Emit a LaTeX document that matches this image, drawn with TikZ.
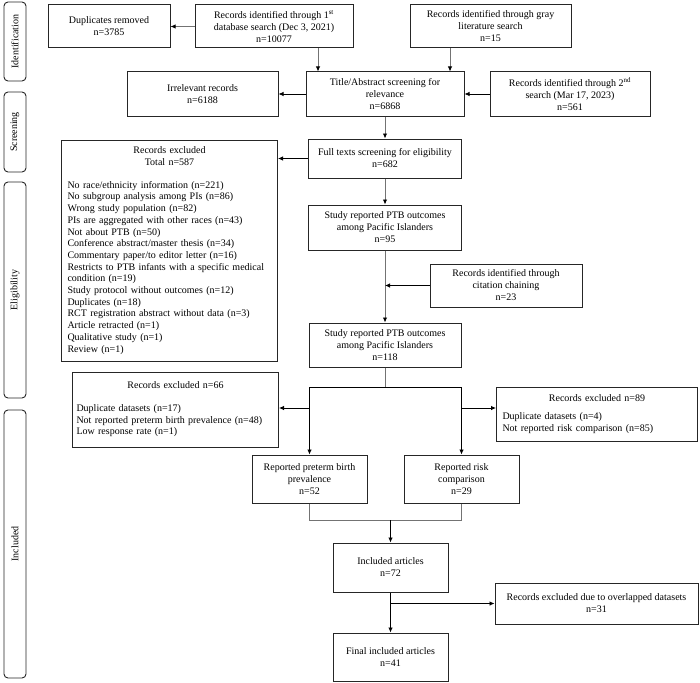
\documentclass[tikz,border=0pt]{standalone}
\usepackage{fontspec}
\setmainfont{Liberation Serif}
\usetikzlibrary{arrows.meta,calc}
\newcommand\boxfont{\fontsize{10}{12}\selectfont}
\begin{document}
\begin{tikzpicture}[x=1pt,y=-1pt,
  box/.style={draw=black!85, line width=1pt, align=center, inner sep=2pt, font=\boxfont},
  listbox/.style={draw=black!85, line width=1pt, align=left, inner xsep=6pt, inner ysep=2pt, font=\fontsize{10}{11.7}\selectfont},
  tab/.style={draw=black!85, line width=0.9pt, rounded corners=4pt, rotate=90, inner sep=0pt, font=\boxfont},
  conn/.style={draw=black, line width=0.8pt},
  gconn/.style={draw=black!55, line width=0.9pt},
  arr/.style={conn, -{Latex[length=5pt,width=4.5pt,color=black]}},
  garr/.style={gconn, -{Latex[length=5pt,width=4.5pt,color=black]}}]
\fill[white] (0,0) rectangle (700,682);
\useasboundingbox (0,0) rectangle (700,682);
% side tabs
\node[tab, minimum width=79pt, minimum height=22pt] (tid) at (15,41.5) {Identification};
\node[tab, minimum width=80pt, minimum height=22pt] (tsc) at (15,132) {Screening};
\node[tab, minimum width=216pt, minimum height=22pt] (tel) at (15,290) {Eligibility};
\node[tab, minimum width=268pt, minimum height=22pt] (tin) at (15,544) {Included};
% boxes
\node[box, minimum width=122pt, minimum height=43pt] (dup) at (109,26.5) {Duplicates removed\\n=3785};
\node[box, minimum width=158pt, minimum height=43pt] (rec1) at (274,26.5) {Records identified through 1\textsuperscript{st}\\database search (Dec 3, 2021)\\n=10077};
\node[box, minimum width=161pt, minimum height=43pt] (gray) at (490.5,26.5) {Records identified through gray\\literature search\\n=15};
\node[box, minimum width=151pt, minimum height=44pt] (irr) at (202.5,94) {Irrelevant records\\n=6188};
\node[box, minimum width=158pt, minimum height=44pt] (title) at (385,94) {Title/Abstract screening for\\relevance\\n=6868};
\node[box, minimum width=160pt, minimum height=44pt] (rec2) at (570,94) {Records identified through 2\textsuperscript{nd}\\search (Mar 17, 2023)\\n=561};
\node[box, minimum width=153pt, minimum height=39pt] (full) at (385,158.5) {Full texts screening for eligibility\\n=682};
\node[listbox, text width=204pt, minimum height=221pt] (excl1) at (169.5,250.5) {{\centering Records excluded\\Total n=587\par}\vspace{11pt}No race/ethnicity information (n=221)\\No subgroup analysis among PIs (n=86)\\Wrong study population (n=82)\\PIs are aggregated with other races (n=43)\\Not about PTB (n=50)\\Conference abstract/master thesis (n=34)\\Commentary paper/to editor letter (n=16)\\Restricts to PTB infants with a specific medical\\condition (n=19)\\Study protocol without outcomes (n=12)\\Duplicates (n=18)\\RCT registration abstract without data (n=3)\\Article retracted (n=1)\\Qualitative study (n=1)\\Review (n=1)};
\node[box, minimum width=153pt, minimum height=45pt] (s95) at (385,227.5) {Study reported PTB outcomes\\among Pacific Islanders\\n=95};
\node[box, minimum width=152pt, minimum height=43pt] (cit) at (506,285.5) {Records identified through\\citation chaining\\n=23};
\node[box, minimum width=152pt, minimum height=44pt] (s118) at (385,345) {Study reported PTB outcomes\\among Pacific Islanders\\n=118};
\node[listbox, inner xsep=4pt, text width=198pt, minimum height=75pt] (excl66) at (175.5,409.5) {{\centering Records excluded n=66\par}\vspace{11pt}Duplicate datasets (n=17)\\Not reported preterm birth prevalence (n=48)\\Low response rate (n=1)};
\node[listbox, text width=189pt, minimum height=54pt] (excl89) at (597,414) {{\centering Records excluded n=89\par}\vspace{7pt}Duplicate datasets (n=4)\\Not reported risk comparison (n=85)};
\node[box, minimum width=115pt, minimum height=48pt] (pre) at (309.5,479) {Reported preterm birth\\prevalence\\n=52};
\node[box, minimum width=115pt, minimum height=48pt] (risk) at (461.5,479) {Reported risk\\comparison\\n=29};
\node[box, minimum width=115pt, minimum height=49pt] (inc) at (390.5,567.5) {Included articles\\n=72};
\node[box, minimum width=203pt, minimum height=41pt] (ovl) at (596.5,603.5) {Records excluded due to overlapped datasets\\n=31};
\node[box, minimum width=115pt, minimum height=48pt] (fin) at (390.5,657) {Final included articles\\n=41};
% connectors
\coordinate (xa) at (318,0);
\coordinate (xb) at (450,0);
\coordinate (ysplit) at (0,387);
\coordinate (yside) at (0,408);
\coordinate (ymerge) at (0,520);
\draw[garr] (rec1.west) -- (dup.east);
\draw[garr] (rec1.south -| xa) -- (title.north -| xa);
\draw[garr] (gray.south -| xb) -- (title.north -| xb);
\draw[arr] (title.west) -- (irr.east);
\draw[arr] (rec2.west) -- (title.east);
\draw[garr] (title.south) -- (title.south |- full.north);
\draw[arr] (full.west) -- (full.west -| excl1.east);
\draw[garr] (full.south) -- (s95.north);
\draw[garr] (s95.south) -- (s95.south |- s118.north);
\draw[arr] (cit.west) -- (cit.west -| s95.south);
\draw[gconn] (s118.south) -- (s118.south |- ysplit);
\draw[conn] (ysplit -| pre.north) -- (ysplit -| risk.north);
\draw[arr] (ysplit -| pre.north) -- (pre.north);
\draw[arr] (ysplit -| risk.north) -- (risk.north);
\draw[arr] (yside -| pre.north) -- (yside -| excl66.east);
\draw[arr] (yside -| risk.north) -- (yside -| excl89.west);
\draw[gconn] (pre.south) -- (pre.south |- ymerge) -- (risk.south |- ymerge) -- (risk.south);
\draw[arr] (inc.north |- ymerge) -- (inc.north);
\draw[arr] (inc.south) -- (fin.north);
\draw[arr] (inc.south |- ovl.west) -- (ovl.west);
\end{tikzpicture}
\end{document}
